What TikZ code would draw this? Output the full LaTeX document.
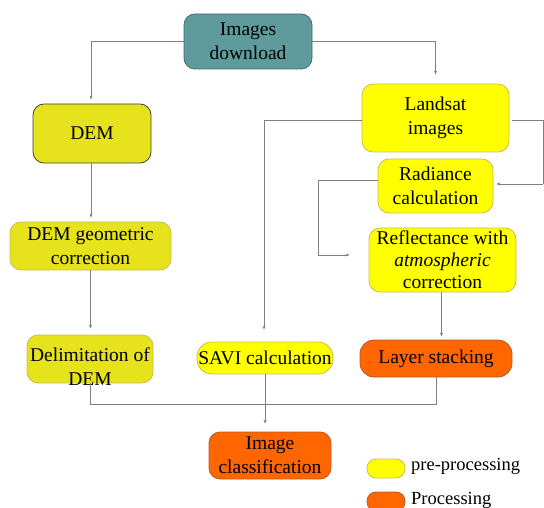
\documentclass[tikz,border=0pt]{standalone}
\usepackage{fontspec}
\setmainfont{Liberation Serif}
\usetikzlibrary{arrows.meta,calc}
\definecolor{teal1}{HTML}{5F9B9C}
\definecolor{teal2}{HTML}{3E6E70}
\definecolor{yel}{HTML}{FFFF00}
\definecolor{yelb}{HTML}{C8BE50}
\definecolor{oyel}{HTML}{E6E21C}
\definecolor{org}{HTML}{FF6600}
\definecolor{orgb}{HTML}{B85A2A}
\definecolor{ln}{HTML}{808080}
\tikzset{
  x=1pt,y=-1pt,
  box/.style={rectangle,rounded corners=11pt,inner sep=0pt,align=center,
    font=\fontsize{19.5}{24}\selectfont,line width=0.8pt},
  tealbox/.style={box,fill=teal1,draw=teal2},
  ybox/.style={box,fill=yel,draw=yelb},
  oybox/.style={box,fill=oyel,draw=yelb},
  dybox/.style={box,fill=oyel,draw=black!75},
  obox/.style={box,fill=org,draw=orgb},
  boxtxt/.style={inner sep=0pt,align=center,font=\fontsize{19.5}{24}\selectfont},
  conn/.style={draw=ln,line width=0.8pt},
  arr/.style={conn,-{Stealth[length=4pt,width=3pt]}},
  legtxt/.style={anchor=west,inner sep=0pt,font=\fontsize{18.5}{22}\selectfont}
}
\begin{document}
\begin{tikzpicture}
\useasboundingbox (0,0) rectangle (544,508);
\node[tealbox,minimum width=128pt,minimum height=55pt] (imd) at (248,41.5) {Images\\download};
\node[dybox,minimum width=118pt,minimum height=59pt] (dem) at (92,133.5) {DEM};
\node[ybox,minimum width=147pt,minimum height=68pt] (land) at (435.5,118) {Landsat\\images};
\node[ybox,minimum width=115pt,minimum height=54pt] (rad) at (435.5,186) {Radiance\\calculation};
\node[ybox,minimum width=147pt,minimum height=64pt,font=\fontsize{19.5}{22}\selectfont] (refl) at (442.5,260) {Reflectance with\\\textit{atmospheric}\\correction};
\node[oybox,minimum width=161pt,minimum height=48pt] (demgeo) at (90.5,246) {DEM geometric\\correction};
\node[oybox,minimum width=126pt,minimum height=48pt] (delim) at (90,359) {};
\node[boxtxt] (delimt) at (90,367) {Delimitation of\\DEM};
\node[ybox,rounded corners=15pt,minimum width=136pt,minimum height=32pt] (savi) at (265,358) {SAVI calculation};
\node[obox,rounded corners=14pt,minimum width=152pt,minimum height=37pt] (lay) at (436,358.5) {Layer stacking};
\node[obox,minimum width=122pt,minimum height=47pt] (cls) at (270,455.5) {Image\\classification};
\node[box,fill=yel,draw=yelb,rounded corners=9pt,minimum width=38pt,minimum height=19pt] (ly) at (386,468.5) {};
\node[box,fill=org,draw=orgb,rounded corners=9pt,minimum width=38pt,minimum height=19pt] (lo) at (386,501.5) {};
\node[legtxt] (lyt) at (411,466) {pre-processing};
\node[legtxt] (lot) at (411,500) {Processing};
\coordinate (rx) at (543,0);
\coordinate (lx) at (318,0);
\coordinate (bus) at (0,404);
% connectors
\draw[arr,shorten >=4pt] (imd.west) -| ([xshift=-1pt]dem.north);
\draw[arr,shorten >=9pt] (imd.east) -| (land.north);
\draw[arr,shorten >=4pt] ([xshift=-1pt]dem.south) -- ([xshift=-1pt]dem.south |- demgeo.north);
\draw[arr,shorten >=6pt] (demgeo.south) -- (demgeo.south |- delim.north);
\draw[arr,shorten >=12pt] ([yshift=-2pt]land.west) -| ([xshift=-1pt]savi.north);
\draw[conn,shorten <=3pt] ([yshift=-2pt]land.east) -- ([yshift=-2pt]land.east -| rx) -- ([yshift=2pt]rad.east -| rx);
\draw[arr,shorten >=3pt] ([yshift=2pt]rad.east -| rx) -- ([yshift=2pt]rad.east);
\draw[arr,shorten >=19pt] ([yshift=6pt]rad.west) -| ([yshift=5pt]refl.west -| lx) -- ([yshift=5pt]refl.west);
\draw[arr,shorten >=3pt] ([xshift=-1pt]refl.south) -- ([xshift=-1pt]refl.south |- lay.north);
\draw[conn] (delim.south) |- (bus -| lay.south) -- (lay.south);
\draw[arr,shorten >=8pt] (savi.south) -- (savi.south |- cls.north);
\end{tikzpicture}
\end{document}
